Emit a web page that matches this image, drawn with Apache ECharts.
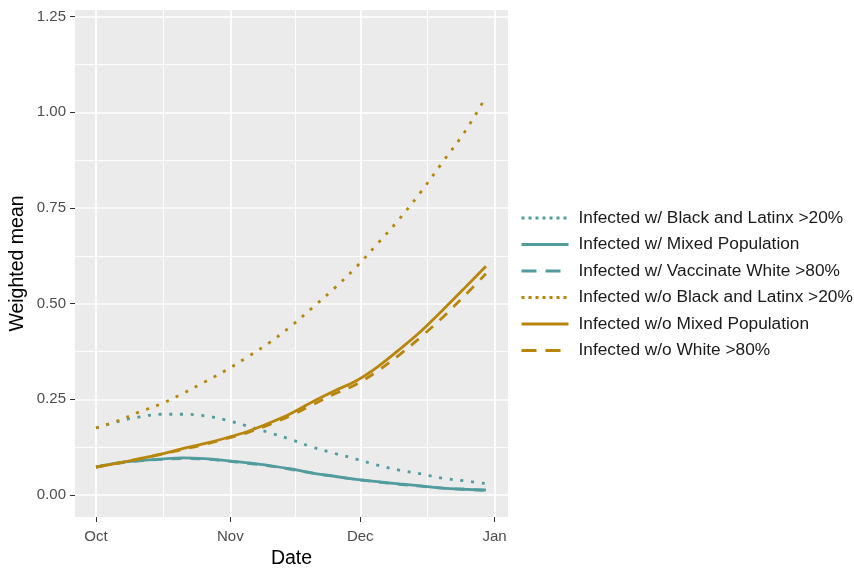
<!DOCTYPE html>
<html><head><meta charset="utf-8">
<script src="https://cdn.jsdelivr.net/npm/echarts@6/dist/echarts.min.js"></script>
<style>html,body{margin:0;padding:0;background:#fff}#c{width:854px;height:569px}</style>
</head><body><div id="c"></div>
<script>
const origin = '2020-10-01';
const dates = ['2020-10-01','2020-10-06','2020-10-11','2020-10-16','2020-10-21','2020-10-26','2020-10-31',
  '2020-11-05','2020-11-10','2020-11-15','2020-11-20','2020-11-25','2020-11-30',
  '2020-12-05','2020-12-10','2020-12-15','2020-12-20','2020-12-25','2020-12-30'];
const blW     = [0.175,0.192,0.204,0.211,0.211,0.207,0.196,0.180,0.163,0.145,0.125,0.109,0.094,0.078,0.065,0.055,0.044,0.037,0.030];
const mixedW  = [0.073,0.084,0.090,0.094,0.097,0.095,0.090,0.084,0.077,0.068,0.057,0.049,0.041,0.035,0.029,0.024,0.018,0.015,0.013];
const vwW     = [0.073,0.083,0.089,0.093,0.095,0.094,0.089,0.083,0.076,0.067,0.057,0.049,0.041,0.034,0.028,0.023,0.018,0.015,0.012];
const blWo    = [0.175,0.194,0.217,0.238,0.265,0.295,0.326,0.361,0.398,0.441,0.490,0.540,0.595,0.657,0.721,0.792,0.870,0.947,1.040];
const mixedWo = [0.073,0.083,0.095,0.107,0.121,0.134,0.149,0.166,0.188,0.213,0.244,0.272,0.298,0.335,0.380,0.428,0.483,0.540,0.598];
const whiteWo = [0.073,0.083,0.094,0.106,0.119,0.132,0.147,0.163,0.184,0.208,0.236,0.264,0.289,0.324,0.366,0.413,0.464,0.520,0.578];
const seriesNames = ['Infected w/ Black and Latinx >20%','Infected w/ Mixed Population','Infected w/ Vaccinate White >80%',
  'Infected w/o Black and Latinx >20%','Infected w/o Mixed Population','Infected w/o White >80%'];
const xTickDates = ['2020-10-01','2020-11-01','2020-12-01','2021-01-01'];
const xTickLabels = ['Oct','Nov','Dec','Jan'];
const xMinorDates = ['2020-10-16T12:00','2020-11-16T00:00','2020-12-16T12:00'];
const yTicks = [0,0.25,0.5,0.75,1.0,1.25];
const yMinor = [0.125,0.375,0.625,0.875,1.125];

const DAY = 86400000;
const t0 = Date.parse(origin + 'T00:00:00Z');
const toDay = s => (Date.parse((s.length > 10 ? s : s + 'T00:00') + ':00Z') - t0) / DAY;
const xTicks = xTickDates.map(toDay);
const xMinor = xMinorDates.map(toDay);
const days = dates.map(toDay);

const teal = '#529C9E', gold = '#B8860B';
const values = [blW, mixedW, vwW, blWo, mixedWo, whiteWo];
const colors = [teal, teal, teal, gold, gold, gold];
const dashes = [[3, 7.7], 'solid', [10, 9], [3, 7.7], 'solid', [10, 9]];
const legDashes = [[3, 4], 'solid', [15, 9], [3, 4], 'solid', [15, 9]];

const XMIN = -4.85, XMAX = 95.1, YMIN = -0.0575, YMAX = 1.2675;
const font = 'Liberation Sans, Arial, sans-serif';

const chart = echarts.init(document.getElementById('c'), null, {renderer: 'canvas'});
chart.setOption({
  animation: false,
  backgroundColor: '#fff',
  textStyle: {fontFamily: font},
  grid: {left: 75, top: 10, width: 433, height: 507, show: true, backgroundColor: '#EBEBEB', borderWidth: 0,
    containLabel: false, outerBoundsMode: 'none'},
  legend: {
    orient: 'vertical', left: 520, top: 208, padding: 0, itemWidth: 47, itemHeight: 16, itemGap: 6.5,
    textStyle: {fontSize: 17.3, lineHeight: 20, color: '#1a1a1a', fontFamily: font, padding: [0, 0, 0, 5]},
    data: seriesNames.map((n, i) => ({name: n,
      itemStyle: {opacity: 0},
      lineStyle: {color: colors[i], width: 3, type: legDashes[i], cap: 'butt'}}))
  },
  xAxis: [{
    type: 'value', min: XMIN, max: XMAX, gridIndex: 0,
    axisLine: {show: false, onZero: false},
    axisTick: {show: true, length: 5, lineStyle: {color: '#333', width: 1}, customValues: xTicks},
    axisLabel: {customValues: xTicks, margin: 12, fontSize: 15, color: '#4D4D4D', fontFamily: font,
      formatter: v => { const i = xTicks.findIndex(t => Math.abs(t - v) < 1e-6); return i >= 0 ? xTickLabels[i] : ''; }},
    splitLine: {show: true, lineStyle: {color: '#fff', width: 1.7}},
    name: 'Date', nameLocation: 'middle', nameGap: 32, nameMoveOverlap: false,
    nameTextStyle: {fontSize: 19.5, color: '#000', fontFamily: font}
  }, {
    type: 'value', min: XMIN, max: XMAX, gridIndex: 0, position: 'bottom',
    axisLine: {show: false, onZero: false},
    axisTick: {show: false, customValues: xMinor},
    axisLabel: {show: false, customValues: xMinor},
    splitLine: {show: true, lineStyle: {color: '#fff', width: 0.9}}
  }],
  yAxis: [{
    type: 'value', min: YMIN, max: YMAX,
    axisLine: {show: false, onZero: false},
    axisTick: {show: true, length: 5, lineStyle: {color: '#333', width: 1}, customValues: yTicks},
    axisLabel: {customValues: yTicks, margin: 9, fontSize: 15, color: '#4D4D4D', fontFamily: font,
      formatter: v => v.toFixed(2)},
    splitLine: {show: true, lineStyle: {color: '#fff', width: 1.7}},
    name: 'Weighted mean', nameLocation: 'middle', nameGap: 47, nameMoveOverlap: false,
    nameTextStyle: {fontSize: 19.5, color: '#000', fontFamily: font}
  }, {
    type: 'value', min: YMIN, max: YMAX, position: 'left',
    axisLine: {show: false, onZero: false},
    axisTick: {show: false, customValues: yMinor},
    axisLabel: {show: false, customValues: yMinor},
    splitLine: {show: true, lineStyle: {color: '#fff', width: 0.9}}
  }],
  series: seriesNames.map((n, i) => ({
    name: n, type: 'line', xAxisIndex: 0, yAxisIndex: 0,
    data: days.map((d, k) => [d, values[i][k]]),
    showSymbol: false, symbol: 'none', smooth: 0.35,
    lineStyle: {color: colors[i], width: 2.8, type: dashes[i], cap: 'butt'},
    itemStyle: {color: colors[i]},
    z: 3 + (i < 3 ? 0 : 1)
  }))
});
</script></body></html>
